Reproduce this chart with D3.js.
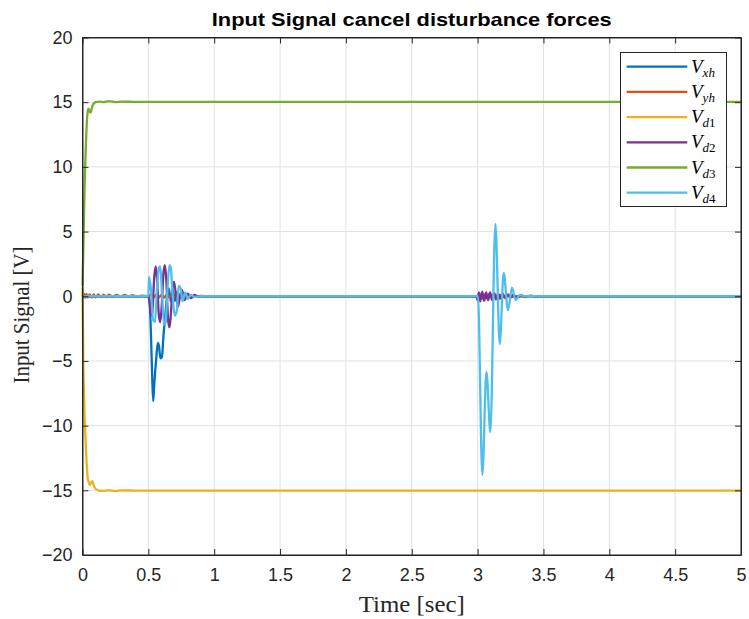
<!DOCTYPE html>
<html><head><meta charset="utf-8">
<script src="https://cdnjs.cloudflare.com/ajax/libs/d3/7.8.5/d3.min.js"></script>
<style>body{margin:0;background:#fff}svg{display:block}</style>
</head><body>
<script>
// ---------- data (time [s], value [V]) ----------
const xTicks = [0,0.5,1,1.5,2,2.5,3,3.5,4,4.5,5];
const yTicks = [-20,-15,-10,-5,0,5,10,15,20];
const seriesNames = ["xh","yh","d1","d2","d3","d4"];
const seriesColors = ["#0072BD","#D95319","#EDB120","#7E2F8E","#77AC30","#4DBEEE"];

const Vxh = [[0,0],[0.02,0.05],[0.05,-0.05],[0.1,0],[0.5,0],[0.51,-0.5],[0.52,-3],[0.53,-6.5],[0.537,-8.1],[0.545,-6.8],
  [0.56,-4.8],[0.572,-3.6],[0.58,-3.8],[0.592,-4.8],[0.603,-4.7],[0.615,-3.0],[0.626,-1.8],[0.64,-0.2],[0.655,0.6],
  [0.67,-0.4],[0.685,0.5],[0.7,-0.35],[0.715,0.3],[0.73,-0.25],[0.75,0.2],[0.77,-0.15],[0.8,0.1],[0.83,-0.06],[0.86,0.03],[0.9,0],
  [3.0,0],[3.015,-0.2],[3.03,0.2],[3.045,-0.25],[3.06,0.2],[3.075,-0.2],[3.09,0.2],[3.11,-0.15],[3.13,0.15],[3.15,-0.12],
  [3.17,0.1],[3.2,-0.08],[3.23,0.06],[3.27,-0.04],[3.32,0],[5,0]];
const Vyh = [[0,0],[0.01,0.2],[0.02,-0.12],[0.03,0.18],[0.04,-0.1],[0.055,0.15],[0.07,-0.1],[0.085,0.15],[0.1,-0.08],
  [0.12,0.14],[0.14,-0.06],[0.16,0.13],[0.18,-0.05],[0.2,0.12],[0.23,-0.04],[0.26,0.11],[0.29,-0.03],[0.32,0.1],
  [0.35,-0.03],[0.38,0.09],[0.41,-0.02],[0.45,0.05],[0.5,0],[0.52,0.12],[0.54,-0.1],[0.56,0.12],[0.58,-0.1],[0.6,0.12],
  [0.62,-0.1],[0.64,0.12],[0.66,-0.08],[0.68,0.1],[0.7,-0.06],[0.72,0.05],[0.76,0],
  [3.0,0],[3.02,0.12],[3.04,-0.12],[3.06,0.12],[3.08,-0.1],[3.1,0.1],[3.13,-0.08],[3.16,0.06],[3.2,-0.04],[3.25,0],[5,0]];
const Vd1 = [[0,0.7],[0.003,-2],[0.006,-5],[0.01,-7],[0.015,-9],[0.02,-10.3],[0.025,-11.5],[0.03,-12.6],[0.035,-13.5],
  [0.04,-14.1],[0.045,-14.3],[0.055,-14.6],[0.065,-14.4],[0.075,-14.3],[0.085,-14.6],[0.1,-14.9],[0.12,-15.0],
  [0.15,-15.05],[0.2,-15.0],[0.25,-15.06],[0.3,-15.0],[0.4,-15.03],[5,-15.02]];
const Vd2 = [[0,0],[0.5,0],[0.51,-0.5],[0.52,-1.5],[0.53,-1.2],[0.545,1.5],[0.555,2.3],[0.565,1.5],[0.58,-1.5],[0.59,-2.0],
  [0.6,-1.0],[0.615,1.8],[0.625,2.4],[0.635,1.5],[0.65,-1.8],[0.66,-2.4],[0.67,-1.5],[0.685,0.8],[0.695,1.1],[0.71,0],
  [0.725,-0.8],[0.74,0],[0.755,0.5],[0.775,-0.3],[0.8,0.2],[0.825,-0.15],[0.85,0.1],[0.875,-0.05],[0.9,0.03],[0.95,0],
  [2.99,0],[3.0,-0.3],[3.01,0.3],[3.02,-0.4],[3.035,0.35],[3.05,-0.35],[3.065,0.3],[3.08,-0.3],[3.095,0.3],[3.11,-0.3],
  [3.125,0.25],[3.14,-0.25],[3.155,0.2],[3.17,-0.2],[3.19,0.2],[3.21,-0.15],[3.23,0.15],[3.25,-0.12],[3.27,0.12],
  [3.3,-0.1],[3.33,0.08],[3.36,-0.05],[3.4,0.05],[3.45,-0.03],[3.5,0],[5,0]];
const Vd3 = [[0,0.8],[0.005,3],[0.01,5.5],[0.015,8],[0.02,10],[0.025,11.5],[0.03,12.8],[0.035,13.8],[0.04,14.3],
  [0.045,14.5],[0.05,14.4],[0.06,14.2],[0.065,14.3],[0.075,14.7],[0.085,14.9],[0.1,15.0],[0.13,15.05],[0.16,15.0],
  [0.2,15.08],[0.25,15.0],[0.3,15.05],[0.4,15.02],[5,15.02]];
const Vd4 = [[0,0],[0.5,0],[0.505,1.5],[0.52,0.5],[0.535,-1.8],[0.55,-2.0],[0.565,0.5],[0.58,2.2],[0.59,2.3],[0.605,0],
  [0.62,-2.2],[0.632,-2.0],[0.645,0.5],[0.66,2.4],[0.67,2.2],[0.685,0],[0.7,-1.5],[0.715,-1.2],[0.73,0.8],[0.745,0.6],
  [0.76,-0.4],[0.78,0.3],[0.8,-0.2],[0.82,0.1],[0.85,-0.05],[0.9,0],
  [3.0,0],[3.003,0],[3.036,-13.8],[3.067,-5.85],[3.097,-10.5],[3.135,5.6],[3.168,-3.7],[3.198,1.8],[3.231,-1.08],
  [3.261,0.67],[3.289,-0.3],[3.32,0.1],[3.357,0],[5,0]];
const seriesData = [Vxh,Vyh,Vd1,Vd2,Vd3,Vd4];

// ---------- layout ----------
const W = 749, H = 619;
const L = 82.5, R = 741, T = 37.5, B = 555;
const axisCol = "#262626", gridCol = "#e1e1e1";

const svg = d3.select("body").append("svg").attr("width",W).attr("height",H);
const x = d3.scaleLinear().domain([0,5]).range([L,R]);
const y = d3.scaleLinear().domain([-20,20]).range([B,T]);

// grid
const g = svg.append("g");
g.selectAll(".gx").data(xTicks).join("line").attr("x1",d=>x(d)).attr("x2",d=>x(d)).attr("y1",T).attr("y2",B)
  .attr("stroke",gridCol).attr("stroke-width",1);
g.selectAll(".gy").data(yTicks).join("line").attr("y1",d=>y(d)).attr("y2",d=>y(d)).attr("x1",L).attr("x2",R)
  .attr("stroke",gridCol).attr("stroke-width",1);

// lines
const line = d3.line().x(d=>x(d[0])).y(d=>y(d[1])).curve(d3.curveMonotoneX);
svg.append("g").selectAll("path").data(seriesData).join("path")
  .attr("d",line).attr("fill","none").attr("stroke",(d,i)=>seriesColors[i]).attr("stroke-width",2.3)
  .attr("stroke-linejoin","round");

// axes (inner ticks on all sides)
const tk = 6;
const fontTick = "'Liberation Sans', Arial, sans-serif";
const ax = svg.append("g").attr("transform",`translate(0,${B})`)
  .call(d3.axisBottom(x).tickValues(xTicks).tickSizeInner(-tk).tickSizeOuter(0).tickPadding(13).tickFormat(d3.format("~g")));
const axT = svg.append("g").attr("transform",`translate(0,${T})`)
  .call(d3.axisTop(x).tickValues(xTicks).tickSizeInner(-tk).tickSizeOuter(0).tickFormat(""));
const ay = svg.append("g").attr("transform",`translate(${L},0)`)
  .call(d3.axisLeft(y).tickValues(yTicks).tickSizeInner(-tk).tickSizeOuter(0).tickPadding(10).tickFormat(d3.format("~g")));
const ayR = svg.append("g").attr("transform",`translate(${R},0)`)
  .call(d3.axisRight(y).tickValues(yTicks).tickSizeInner(-tk).tickSizeOuter(0).tickFormat(""));
[ax,axT,ay,ayR].forEach(a=>{
  a.selectAll(".domain").attr("stroke",axisCol);
  a.selectAll(".tick line").attr("stroke",axisCol);
  a.selectAll("text").attr("fill",axisCol).style("font-family",fontTick).style("font-size","18px");
});
ax.selectAll("text").attr("dy","0.71em");
// frame
svg.append("rect").attr("x",L).attr("y",T).attr("width",R-L).attr("height",B-T)
  .attr("fill","none").attr("stroke",axisCol).attr("stroke-width",1);

// title & labels
svg.append("text").attr("x",(L+R)/2).attr("y",26).attr("text-anchor","middle")
  .style("font-family","'Liberation Sans', Arial, sans-serif").style("font-weight","bold").style("font-size","19px")
  .attr("fill","#000").attr("textLength",400).attr("lengthAdjust","spacingAndGlyphs")
  .text("Input Signal cancel disturbance forces");
svg.append("text").attr("x",(L+R)/2).attr("y",612).attr("text-anchor","middle")
  .style("font-family","'Liberation Serif', 'DejaVu Serif', serif").style("font-size","23px")
  .attr("fill",axisCol).attr("textLength",106).attr("lengthAdjust","spacingAndGlyphs")
  .text("Time [sec]");
svg.append("text").attr("transform",`translate(29,315) rotate(-90)`).attr("text-anchor","middle")
  .style("font-family","'Liberation Serif', 'DejaVu Serif', serif").style("font-size","23px")
  .attr("fill",axisCol).attr("textLength",137).attr("lengthAdjust","spacingAndGlyphs")
  .text("Input Signal [V]");

// legend
const lg = svg.append("g");
const lgX = 620.5, lgY = 52.5, lgW = 106, lgH = 154, rowH = 25.2, row0 = 66.7;
lg.append("rect").attr("x",lgX).attr("y",lgY).attr("width",lgW).attr("height",lgH)
  .attr("fill","#fff").attr("stroke",axisCol).attr("stroke-width",1);
const items = lg.selectAll(".it").data(seriesNames).join("g").attr("transform",(d,i)=>`translate(0,${row0+i*rowH})`);
items.append("line").attr("x1",626.7).attr("x2",687.3).attr("stroke",(d,i)=>seriesColors[i]).attr("stroke-width",2.3);
const lt = items.append("text").attr("x",691).attr("y",6)
  .style("font-family","'Liberation Serif', 'DejaVu Serif', serif").style("font-size","19px")
  .attr("fill","#000");
lt.append("tspan").style("font-style","italic").text("V");
lt.append("tspan").attr("dy",4).style("font-size","13px").style("font-style","italic")
  .text(d=>d.replace(/[0-9]/g,""));
lt.append("tspan").style("font-size","13px").text(d=>d.replace(/[a-z]/g,""));
</script>
</body></html>
